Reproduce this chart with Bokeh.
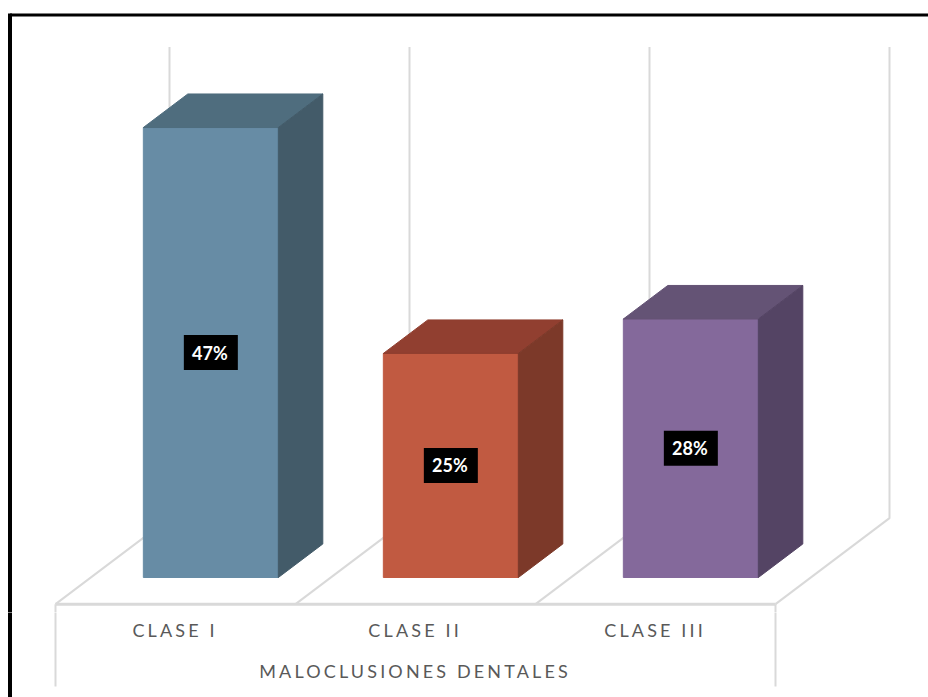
from bokeh.plotting import figure
from bokeh.layouts import column
from bokeh.embed import file_html
from bokeh.resources import INLINE
from bokeh.core.properties import value
from bokeh.models import Range1d

categories = ["CLASE I", "CLASE II", "CLASE III"]
bar_values = [47.0, 23.4, 27.0]
data_labels = ["47%", "25%", "28%"]
axis_title = "MALOCLUSIONES DENTALES"
wall_top = 49.2

front_colors = ["#678CA5", "#C15A41", "#84699B"]
top_colors = ["#4F6D7E", "#913F30", "#645375"]
side_colors = ["#435B69", "#7C3929", "#544464"]
GRID = "#D9D9D9"
TEXT = "#595959"

W, H = 928, 697
H_TOP = 612       # the axis-label strip below this has its own letter spacing
SLOT = 240.0      # px per category
UNIT = 9.574      # px per value unit
SPACING = 3.15    # letter spacing in the axis-label strip, px
x0 = -0.5 - 55 / SLOT
x1 = x0 + W / SLOT


def val_at(py):
    return (577 - py) / UNIT


DX = 114 / SLOT   # slot shift for full floor depth
DY = 86 / UNIT    # value shift for full floor depth
D0 = 0.31         # depth of bar's front face
D1 = 0.70         # depth of bar's back face
BW = 135 / SLOT / 2


def proj(x, v, d):
    return x + d * DX, v + (d - D0) * DY


def base_fig(height, py_top, py_bottom, **kw):
    f = figure(width=W, height=height, x_range=Range1d(x0, x1),
               y_range=Range1d(val_at(py_bottom), val_at(py_top)), output_backend="svg",
               toolbar_location=None, min_border=0, outline_line_color=None,
               background_fill_color="white", border_fill_color="white", **kw)
    f.axis.visible = False
    f.grid.visible = False
    return f


p = base_fig(H_TOP, 0, H_TOP)
q = base_fig(H - H_TOP, H_TOP, H, styles={"letter-spacing": f"{SPACING}px"})

edges = [-0.5, 0.5, 1.5, 2.5]
for e in edges:
    xa, ya = proj(e, 0, 0)
    xb, yb = proj(e, 0, 1)
    xc, yc = proj(e, wall_top, 1)
    p.line([xa, xb, xc], [ya, yb, yc], line_color=GRID, line_width=2)

xa, ya = proj(edges[0], 0, 0)
xb, yb = proj(edges[-1], 0, 0)
low = val_at(686)
for f in (p, q):
    f.line([xa, xa], [low, ya], line_color=GRID, line_width=2)
    f.line([xb, xb], [low, ya], line_color=GRID, line_width=2)
p.line([xa, xb], [ya, ya], line_color=GRID, line_width=3)

for i, v in enumerate(bar_values):
    l, r = i - BW, i + BW
    fl = proj(l, 0, D0); fr = proj(r, 0, D0)
    tl = proj(l, v, D0); tr = proj(r, v, D0)
    bl = proj(l, v, D1); br = proj(r, v, D1)
    be = proj(r, 0, D1)
    p.patch([fl[0], fr[0], tr[0], tl[0]], [fl[1], fr[1], tr[1], tl[1]],
            fill_color=front_colors[i], line_color=front_colors[i], line_width=1)
    p.patch([tl[0], tr[0], br[0], bl[0]], [tl[1], tr[1], br[1], bl[1]],
            fill_color=top_colors[i], line_color=top_colors[i], line_width=1)
    p.patch([fr[0], be[0], br[0], tr[0]], [fr[1], be[1], br[1], tr[1]],
            fill_color=side_colors[i], line_color=side_colors[i], line_width=1)
    cx, cy = proj(i, v / 2, D0)
    p.rect([cx], [cy], width=54 / SLOT, height=35 / UNIT, fill_color="black", line_color=None)
    p.text([cx - 1 / SLOT], [cy], text=[data_labels[i]], text_color="white",
           text_font=value("Lato"), text_font_size="18px", text_font_style="bold",
           text_align="center", text_baseline="middle")


def spaced_x(cx, s):
    # the browser adds the spacing after the text has been centred by its plain width
    return cx - ((len(s) - 1) * SPACING / 2 + 2) / SLOT


for i, c in enumerate(categories):
    cx, _ = proj(i, 0, 0)
    q.text([spaced_x(cx, c)], [val_at(629)], text=[c], text_color=TEXT, text_font=value("Lato"),
           text_font_size="18px", text_align="center", text_baseline="middle")
q.text([spaced_x(1, axis_title)], [val_at(670)], text=[axis_title], text_color=TEXT,
       text_font=value("Lato"), text_font_size="18px", text_align="center", text_baseline="middle")

# black page frame, left and top
xl = x0 + 9.5 / SLOT
p.line([xl, xl], [val_at(H_TOP + 2), val_at(13)], line_color="black", line_width=4)
q.line([xl, xl], [val_at(H + 2), val_at(H_TOP - 2)], line_color="black", line_width=4)
p.line([xl, x1], [val_at(14.5), val_at(14.5)], line_color="black", line_width=3)

layout = column(p, q, spacing=0)
open("out.html", "w").write(file_html(layout, INLINE))
